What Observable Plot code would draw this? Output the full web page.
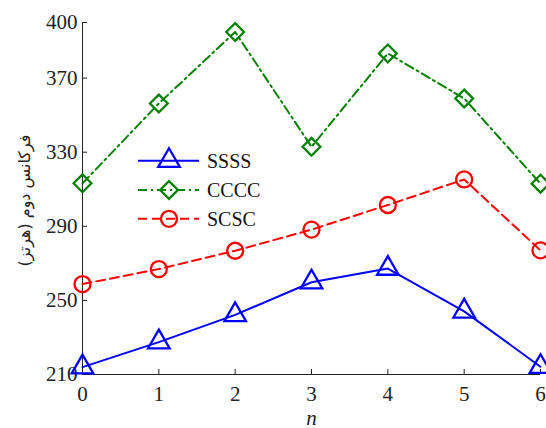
<!DOCTYPE html>
<html>
<head>
<meta charset="utf-8">
<script src="https://cdn.jsdelivr.net/npm/d3@7"></script>
<script src="https://cdn.jsdelivr.net/npm/@observablehq/plot@0.6"></script>
<style>
  html, body { margin: 0; padding: 0; background: white; }
</style>
</head>
<body>
<div id="chart"></div>
<script>
const nValues = [0, 1, 2, 3, 4, 5, 6];
const ssss = [214.0, 227.5, 242.2, 259.8, 267.2, 244.1, 214.2];
const cccc = [313.2, 356.3, 394.9, 332.9, 383.3, 359.0, 313.0];
const scsc = [258.8, 266.9, 276.8, 288.2, 301.5, 315.3, 277.0];
const seriesNames = ["SSSS", "CCCC", "SCSC"];
const yTicks = [210, 250, 290, 330, 370, 400];
const xTicks = [0, 1, 2, 3, 4, 5, 6];
const yLabel = "فرکانس دوم (هرتز)";
const xLabel = "n";

const serif = "'Liberation Serif', 'Times New Roman', 'DejaVu Serif', serif";

const styles = {
  SSSS: {color: "#0000ff", dash: null, symbol: "triangle"},
  CCCC: {color: "#008000", dash: "9,4,2,4", symbol: "diamond2"},
  SCSC: {color: "#ff0000", dash: "9,5", symbol: "circle"}
};
const seriesValues = {SSSS: ssss, CCCC: cccc, SCSC: scsc};

const marks = [];
for (const name of seriesNames) {
  const data = nValues.map((n, i) => ({n, v: seriesValues[name][i]}));
  const s = styles[name];
  marks.push(Plot.line(data, {x: "n", y: "v", stroke: s.color, strokeWidth: 2, strokeDasharray: s.dash}));
  marks.push(Plot.dot(data, {x: "n", y: "v", symbol: s.symbol, r: 8, stroke: s.color, strokeWidth: 2.3, fill: "none"}));
}

const chart = Plot.plot({
  width: 546,
  height: 428,
  marginLeft: 82,
  marginRight: 6,
  marginTop: 22,
  marginBottom: 54,
  style: {fontFamily: serif, fontSize: "21px", background: "white", color: "black"},
  x: {domain: [0, 6]},
  y: {domain: [210, 400]},
  marks: [
    Plot.ruleX([0], {stroke: "#222", strokeWidth: 1}),
    Plot.ruleY([210], {stroke: "#222", strokeWidth: 1}),
    Plot.axisY(yTicks, {tickSize: 5, text: null, label: null, dx: 5, stroke: "#222"}),
    Plot.axisY(yTicks, {tickSize: 0, tickPadding: 5, label: null, fill: "#222", fontSize: 21}),
    Plot.axisX(xTicks, {tickSize: 5, text: null, label: null, dy: -5, stroke: "#222"}),
    Plot.axisX(xTicks, {tickSize: 0, tickPadding: 12, label: null, fill: "#222", fontSize: 21}),
    Plot.text([xLabel], {frameAnchor: "bottom", lineAnchor: "bottom", dy: 50, fontStyle: "italic", fontSize: 21, fill: "#222"}),
    Plot.text([yLabel], {frameAnchor: "left", textAnchor: "middle", lineAnchor: "middle", rotate: -90, dx: -58, dy: 2, fontFamily: "DejaVu Sans", fontSize: 16, fill: "#222"}),
    ...marks
  ]
});

document.getElementById("chart").appendChild(chart);

// Legend
const svg = d3.select(chart);
const legend = svg.append("g").attr("class", "legend").attr("text-anchor", "start");
const legendY = [160.7, 190, 218.8];
const symMap = {triangle: d3.symbolTriangle, diamond2: d3.symbolDiamond2, circle: d3.symbolCircle};
seriesNames.forEach((name, i) => {
  const s = styles[name];
  const g = legend.append("g").attr("transform", `translate(0,${legendY[i]})`);
  g.append("line").attr("x1", 138).attr("x2", 199).attr("y1", 0).attr("y2", 0)
    .attr("stroke", s.color).attr("stroke-width", 2)
    .attr("stroke-dasharray", s.dash);
  g.append("path").attr("transform", "translate(169,0)")
    .attr("d", d3.symbol(symMap[s.symbol], Math.PI * 64)())
    .attr("fill", "none").attr("stroke", s.color).attr("stroke-width", 2.3);
  g.append("text").attr("x", 207).attr("y", 0).attr("dy", "0.34em")
    .attr("text-anchor", "start")
    .style("font-family", serif).attr("font-size", 20).attr("fill", "#111")
    .text(name);
});
</script>
</body>
</html>
